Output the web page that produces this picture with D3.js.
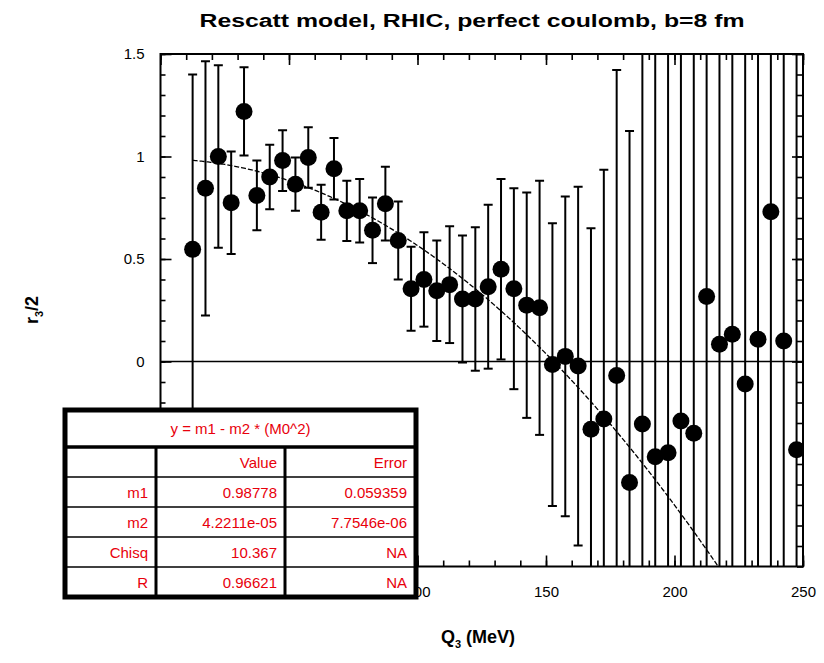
<!DOCTYPE html>
<html><head><meta charset="utf-8">
<script src="https://cdn.jsdelivr.net/npm/d3@7"></script>
<style>
html,body{margin:0;padding:0;background:#fff;}
svg{display:block;font-family:"Liberation Sans",Arial,Helvetica,sans-serif;}
</style></head>
<body>
<script>
// ---- data ----
const qValues = [12.5,17.5,22.5,27.5,32.5,37.5,42.5,47.5,52.5,57.5,62.5,67.5,72.5,77.5,82.5,87.5,92.5,97.5,102.5,107.5,112.5,117.5,122.5,127.5,132.5,137.5,142.5,147.5,152.5,157.5,162.5,167.5,172.5,177.5,182.5,187.5,192.5,197.5,202.5,207.5,212.5,217.5,222.5,227.5,232.5,237.5,242.5,247.5];
const rValues = [0.547,0.845,1.0,0.775,1.22,0.81,0.9,0.98,0.865,0.995,0.728,0.94,0.735,0.735,0.64,0.77,0.59,0.355,0.4,0.345,0.375,0.305,0.305,0.365,0.45,0.355,0.275,0.262,-0.015,0.025,-0.022,-0.33,-0.28,-0.068,-0.59,-0.305,-0.465,-0.445,-0.29,-0.35,0.317,0.084,0.133,-0.11,0.108,0.73,0.1,-0.43];
const rErrors = [0.853,0.62,0.445,0.25,0.215,0.17,0.157,0.148,0.13,0.148,0.134,0.15,0.147,0.155,0.16,0.18,0.19,0.205,0.23,0.245,0.285,0.31,0.35,0.40,0.44,0.49,0.55,0.62,0.69,0.78,0.875,0.98,1.215,1.49,1.715,2.5,2.6,2.7,2.8,2.9,3.0,3.1,3.2,3.3,3.4,3.5,3.6,3.7];
const xTicks = [0,50,100,150,200,250];
const yTicks = [0,0.5,1,1.5];
const fitM1 = 0.98778, fitM2 = 4.2211e-05;
const tableTitle = "y = m1 - m2 * (M0^2)";
const tableHeader = ["", "Value", "Error"];
const rowLabels = ["m1","m2","Chisq","R"];
const rowValues = ["0.98778","4.2211e-05","10.367","0.96621"];
const rowErrors = ["0.059359","7.7546e-06","NA","NA"];
const titleText = "Rescatt model, RHIC, perfect coulomb, b=8 fm";

// ---- layout ----
const W = 824, H = 663;
const L = 160.5, R = 803, T = 54, B = 566.5;
const svg = d3.select("body").append("svg").attr("width", W).attr("height", H);
const x = d3.scaleLinear().domain([0,250]).range([L,R]);
const y = d3.scaleLinear().domain([-1,1.5]).range([B,T]);

svg.append("defs").append("clipPath").attr("id","clip")
  .append("rect").attr("x",L).attr("y",T).attr("width",R-L).attr("height",B-T);

// title
svg.append("text").attr("x",472).attr("y",27).attr("text-anchor","middle")
  .attr("font-weight","bold").attr("font-size",18).attr("textLength",545)
  .attr("lengthAdjust","spacingAndGlyphs").text(titleText);

// axes
function styleAxis(g){ g.select(".domain").remove(); g.selectAll("line").attr("stroke","#000").attr("stroke-width",1.6); g.selectAll("text").attr("font-size",15).attr("fill","#000").attr("font-family","'Liberation Sans',Arial,sans-serif"); }
const xMinor = d3.range(0,251,10);
const yMinor = d3.range(-1,1.51,0.1).map(v=>+v.toFixed(2));
svg.append("g").attr("transform",`translate(0,${B})`).call(d3.axisBottom(x).tickValues(xMinor).tickSize(-6).tickFormat("")).call(styleAxis);
svg.append("g").attr("transform",`translate(0,${B})`).call(d3.axisBottom(x).tickValues(xTicks).tickSize(-11).tickPadding(20).tickFormat(d3.format("d"))).call(styleAxis);
svg.append("g").attr("transform",`translate(0,${T})`).call(d3.axisTop(x).tickValues(xMinor).tickSize(-6).tickFormat("")).call(styleAxis);
svg.append("g").attr("transform",`translate(0,${T})`).call(d3.axisTop(x).tickValues(xTicks).tickSize(-11).tickFormat("")).call(styleAxis);
svg.append("g").attr("transform",`translate(${L},0)`).call(d3.axisLeft(y).tickValues(yMinor).tickSize(-5).tickFormat("")).call(styleAxis);
svg.append("g").attr("transform",`translate(${L},0)`).call(d3.axisLeft(y).tickValues(yTicks).tickSize(-11).tickPadding(16).tickFormat(d=>String(d))).call(styleAxis);
svg.append("g").attr("transform",`translate(${R},0)`).call(d3.axisRight(y).tickValues(yMinor).tickSize(-6).tickFormat("")).call(styleAxis);
svg.append("g").attr("transform",`translate(${R},0)`).call(d3.axisRight(y).tickValues(yTicks).tickSize(-11).tickFormat("")).call(styleAxis);

// frame
svg.append("rect").attr("x",L).attr("y",T).attr("width",R-L).attr("height",B-T)
  .attr("fill","none").attr("stroke","#000").attr("stroke-width",2);

const plot = svg.append("g").attr("clip-path","url(#clip)");
// zero line
plot.append("line").attr("x1",L).attr("x2",R).attr("y1",y(0)).attr("y2",y(0)).attr("stroke","#000").attr("stroke-width",1.6);

const data = qValues.map((q,i)=>({q, r:rValues[i], e:rErrors[i]}));
// error bars
const eb = plot.append("g").attr("stroke","#000").attr("stroke-width",2);
data.forEach(d=>{
  eb.append("line").attr("x1",x(d.q)).attr("x2",x(d.q)).attr("y1",y(d.r+d.e)).attr("y2",y(d.r-d.e));
  eb.append("line").attr("x1",x(d.q)-4.5).attr("x2",x(d.q)+4.5).attr("y1",y(d.r+d.e)).attr("y2",y(d.r+d.e));
  eb.append("line").attr("x1",x(d.q)-4.5).attr("x2",x(d.q)+4.5).attr("y1",y(d.r-d.e)).attr("y2",y(d.r-d.e));
});
// fit curve
const fitX = d3.range(12.5, 250.01, 0.5);
plot.append("path").datum(fitX)
  .attr("d", d3.line().x(v=>x(v)).y(v=>y(fitM1 - fitM2*v*v)))
  .attr("fill","none").attr("stroke","#000").attr("stroke-width",1.3).attr("stroke-dasharray","5,2");
// markers
plot.append("g").selectAll("circle").data(data).join("circle")
  .attr("cx",d=>x(d.q)).attr("cy",d=>y(d.r)).attr("r",8.5).attr("fill","#000");

// axis titles
const xl = svg.append("text").attr("x",478).attr("y",643).attr("text-anchor","middle")
  .attr("font-weight","bold").attr("font-size",18);
xl.append("tspan").text("Q");
xl.append("tspan").attr("font-size",11).attr("dy",5).text("3");
xl.append("tspan").attr("dy",-5).text(" (MeV)");

const yl = svg.append("text").attr("transform","translate(38,310) rotate(-90)").attr("text-anchor","middle")
  .attr("font-weight","bold").attr("font-size",18);
yl.append("tspan").text("r");
yl.append("tspan").attr("font-size",11).attr("dy",5).text("3");
yl.append("tspan").attr("dy",-5).text("/2");

// fit table
const tX0 = 65, tX1 = 416, tY0 = 410, tY1 = 597;
const c1 = 156, c2 = 285;
const headTop = 447;
const rowH = (tY1 - headTop)/5;
const tb = svg.append("g");
tb.append("rect").attr("x",tX0).attr("y",tY0).attr("width",tX1-tX0).attr("height",tY1-tY0)
  .attr("fill","#fff").attr("stroke","#000").attr("stroke-width",5);
tb.append("line").attr("x1",tX0).attr("x2",tX1).attr("y1",headTop).attr("y2",headTop).attr("stroke","#000").attr("stroke-width",3.5);
[c1,c2].forEach(cx=>tb.append("line").attr("x1",cx).attr("x2",cx).attr("y1",headTop).attr("y2",tY1).attr("stroke","#000").attr("stroke-width",3));
for(let i=1;i<5;i++){
  tb.append("line").attr("x1",tX0).attr("x2",tX1).attr("y1",headTop+rowH*i).attr("y2",headTop+rowH*i).attr("stroke","#000").attr("stroke-width",1.5);
}
const red = "#e8000b";
tb.append("text").attr("x",(tX0+tX1)/2).attr("y",(tY0+headTop)/2+5).attr("text-anchor","middle")
  .attr("fill",red).attr("font-size",15).text(tableTitle);
const rowsText = [tableHeader].concat(rowLabels.map((l,i)=>[l,rowValues[i],rowErrors[i]]));
rowsText.forEach((row,i)=>{
  const cy = headTop + rowH*(i+0.5) + 5.5;
  [[row[0],c1-8],[row[1],c2-8],[row[2],tX1-9]].forEach(([t,xx])=>{
    tb.append("text").attr("x",xx).attr("y",cy).attr("text-anchor","end").attr("fill",red).attr("font-size",15).text(t);
  });
});
</script>
</body></html>
